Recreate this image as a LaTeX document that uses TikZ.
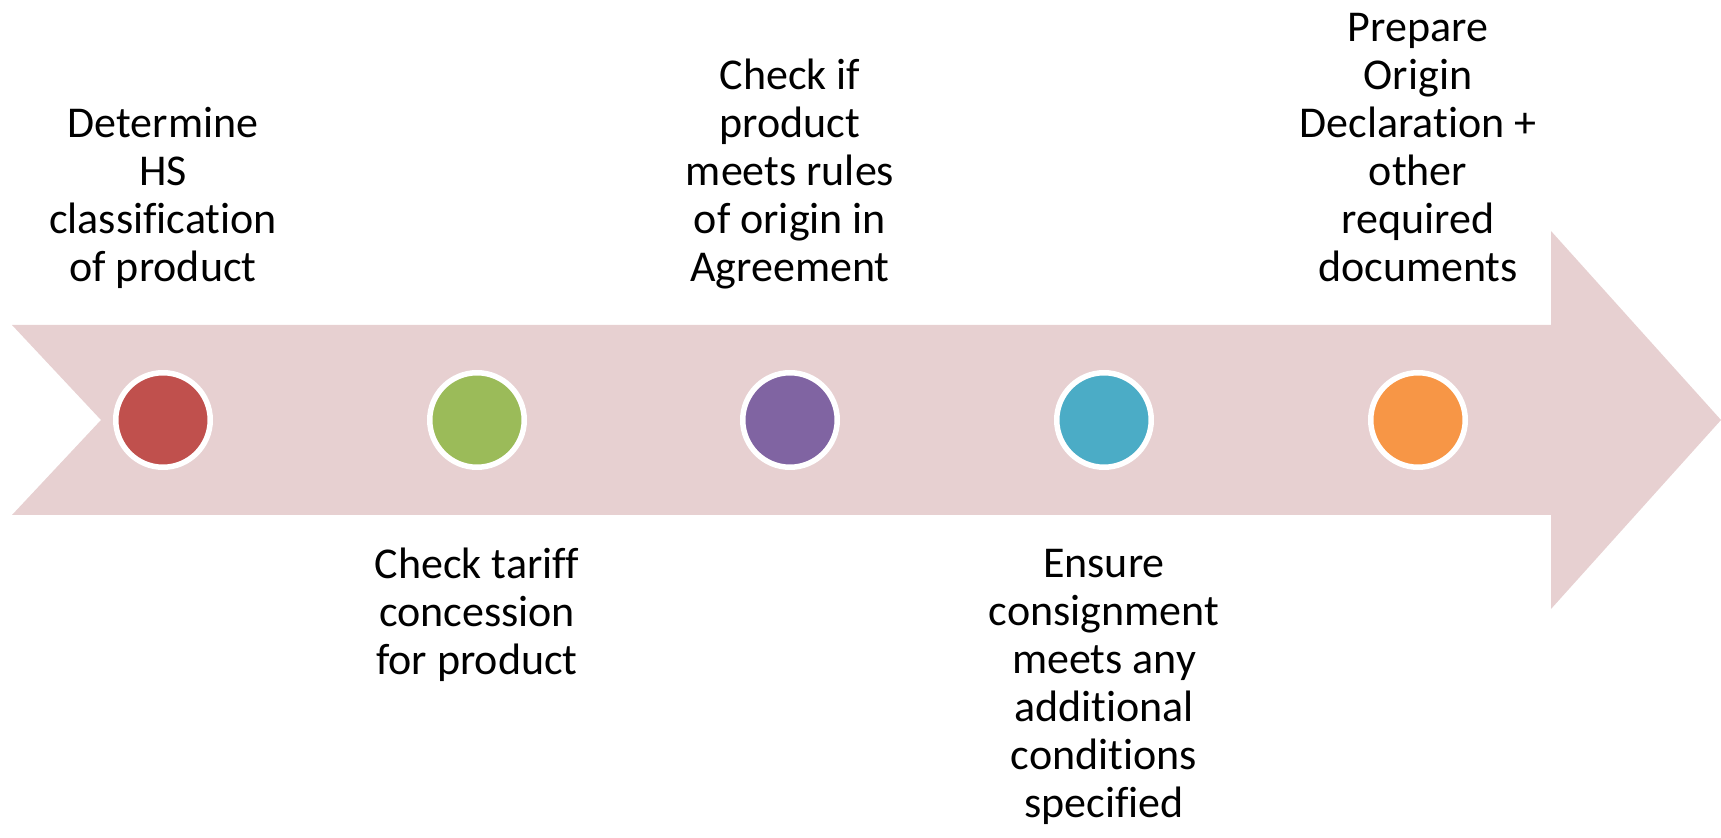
\documentclass[tikz,border=0pt]{standalone}
\usepackage{fontspec}
\setmainfont{Carlito}[Ligatures=NoCommon]
\definecolor{band}{RGB}{231,208,209}
\definecolor{cred}{HTML}{C0504D}
\definecolor{cgreen}{HTML}{9BBB59}
\definecolor{cpurple}{HTML}{8064A2}
\definecolor{ccyan}{HTML}{4BACC6}
\definecolor{corange}{HTML}{F79646}

\begin{document}
\begin{tikzpicture}[x=0.5pt,y=-0.5pt,
		dot/.style={circle,draw=white,line width=2.75pt,minimum size=47.25pt,inner sep=0pt},
		txt/.style={align=center,anchor=base,inner sep=0pt,font=\fontsize{22pt}{24pt}\selectfont}]
		\useasboundingbox (0,0) rectangle (1721,838);
		\fill[band] (12,325) -- (1551,325) -- (1551,231) -- (1721,420) -- (1551,609) -- (1551,515) -- (12,515) -- (101,420) -- cycle;
		\node[dot,fill=cred]    (d1) at (163,420)  {};
		\node[dot,fill=cgreen]  (d2) at (477,420)  {};
		\node[dot,fill=cpurple] (d3) at (790,420)  {};
		\node[dot,fill=ccyan]   (d4) at (1104,420) {};
		\node[dot,fill=corange] (d5) at (1418,420) {};
		\node[txt] (t1) at (163,281.5) {Determine\\HS\\classification\\of product};
		\node[txt] (t2) at (477,675)   {Check tariff\\concession\\for product};
		\node[txt] (t3) at (790,281.5) {Check if\\product\\meets rules\\of origin in\\Agreement};
		\node[txt] (t4) at (1104,818)  {Ensure\\consignment\\meets any\\additional\\conditions\\specified};
		\node[txt] (t5) at (1418,281.5) {Prepare\\Origin\\Declaration +\\other\\required\\documents};
	\end{tikzpicture}
\end{document}
